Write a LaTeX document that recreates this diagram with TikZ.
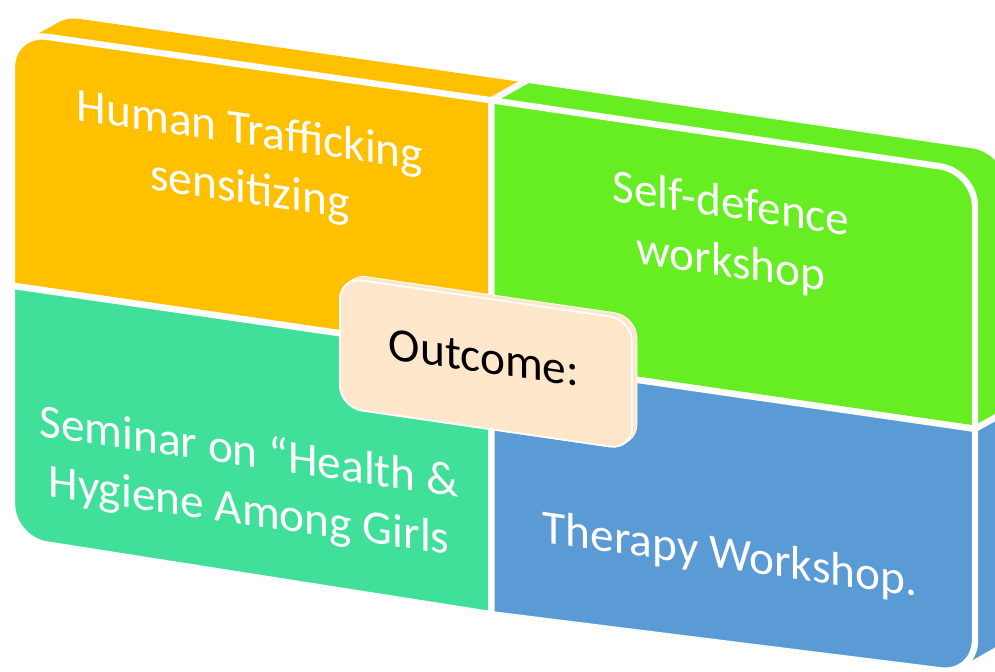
\documentclass[tikz,border=0pt]{standalone}
\usepackage{fontspec}
\setmainfont{Carlito}
\definecolor{qorange}{HTML}{FFC000}
\definecolor{qgreen}{HTML}{67EE22}
\definecolor{qteal}{HTML}{40E09A}
\definecolor{qblue}{HTML}{5B9BD5}
\definecolor{qbeige}{HTML}{FFE7CC}
% quadrant outlines in the sheared frame; #2,#3 = depth offset (right, up)
\newcommand\QuadTL[3]{\path[#1] ({47+#2},{30-#3}) -- ({491.5+#2},{29-#3}) -- ({491.5+#2},{284-#3}) -- ({12+#2},{284-#3}) -- ({12+#2},{65-#3}) arc[start angle=180,end angle=270,radius=35] -- cycle;}
\newcommand\QuadTR[3]{\path[#1] ({491.5+#2},{29-#3}) -- ({940+#2},{30-#3}) arc[start angle=270,end angle=360,radius=35] -- ({975+#2},{287.5-#3}) -- ({491.5+#2},{287.5-#3}) -- cycle;}
\newcommand\QuadBL[3]{\path[#1] ({12+#2},{284-#3}) -- ({491.5+#2},{284-#3}) -- ({491.5+#2},{543-#3}) -- ({47+#2},{537.7-#3}) arc[start angle=90,end angle=180,radius=35] -- cycle;}
\newcommand\QuadBR[3]{\path[#1] ({491.5+#2},{287.5-#3}) -- ({975+#2},{287.5-#3}) -- ({975+#2},{499-#3}) arc[start angle=0,end angle=90,radius=35] -- ({491.5+#2},{543-#3}) -- cycle;}
\newcommand\OutBox[3]{\path[#1] ({362+#2},{228-#3}) -- ({610+#2},{228-#3}) arc[start angle=270,end angle=360,radius=22] -- ({632+#2},{336-#3}) arc[start angle=0,end angle=90,radius=22] -- ({362+#2},{358-#3}) arc[start angle=90,end angle=180,radius=22] -- ({340+#2},{250-#3}) arc[start angle=180,end angle=270,radius=22] -- cycle;}
\begin{document}
\begin{tikzpicture}[x=0.75pt,y=-0.75pt,
  lbl/.style={text=white,align=center,font=\fontsize{35.5}{44}\selectfont,inner sep=0pt,transform shape},
  frontline/.style={draw=white,line width=4.8pt,line join=round},
  edgeline/.style={draw=white,line width=4.8pt},
  boxline/.style={draw=white,line width=1.3pt}]
\useasboundingbox (0,0) rectangle (995,671);
\clip (0,0) rectangle (995,671);
\fill[white] (0,0) rectangle (995,671);
\begin{scope}[yslant=-0.145]
  % extrusions (depth)
  \foreach \i in {0,...,16}{\pgfmathsetmacro\ox{32*\i/16}\pgfmathsetmacro\oy{22.6*\i/16}\QuadBL{fill=qteal}{\ox}{\oy}}
  \foreach \i in {0,...,16}{\pgfmathsetmacro\ox{32*\i/16}\pgfmathsetmacro\oy{22.6*\i/16}\QuadBR{fill=qblue}{\ox}{\oy}}
  \foreach \i in {0,...,16}{\pgfmathsetmacro\ox{32*\i/16}\pgfmathsetmacro\oy{22.6*\i/16}\QuadTL{fill=qorange}{\ox}{\oy}}
  \foreach \i in {0,...,16}{\pgfmathsetmacro\ox{32*\i/16}\pgfmathsetmacro\oy{22.6*\i/16}\QuadTR{fill=qgreen}{\ox}{\oy}}
  % front faces
  \QuadTL{fill=qorange,frontline}{0}{0}
  \QuadTR{fill=qgreen,frontline}{0}{0}
  \QuadBL{fill=qteal,frontline}{0}{0}
  \QuadBR{fill=qblue,frontline}{0}{0}
  % edges between the side faces
  \coordinate (ctop) at (491.5,29);
  \coordinate (ctopb) at (526.7,4.1);
  \coordinate (cright) at (975,287.5);
  \coordinate (crightb) at (1010,262.8);
  \draw[edgeline] (ctop) -- (ctopb);
  \draw[edgeline] (cright) -- (crightb);
  % centre box
  \foreach \i in {0,...,6}{\pgfmathsetmacro\ox{4.5*\i/6}\pgfmathsetmacro\oy{4*\i/6}\OutBox{boxline}{\ox}{\oy}}
  \foreach \i in {0,...,6}{\pgfmathsetmacro\ox{4.5*\i/6}\pgfmathsetmacro\oy{4*\i/6}\OutBox{fill=qbeige}{\ox}{\oy}}
  \OutBox{fill=qbeige,boxline}{0}{0}
  % texts
  \node[lbl] (ht) at (250,126) {Human Trafficking\\sensitizing};
  \node[lbl] (sd) at (731,129) {Self-defence\\workshop};
  \node[lbl] (sh) at (249,447) {Seminar on “Health \&\\Hygiene Among Girls};
  \node[lbl] (tw) at (730,451) {Therapy Workshop.};
  \node[lbl,text=black] (oc) at (484,287.5) {Outcome:};
\end{scope}
\end{tikzpicture}
\end{document}
